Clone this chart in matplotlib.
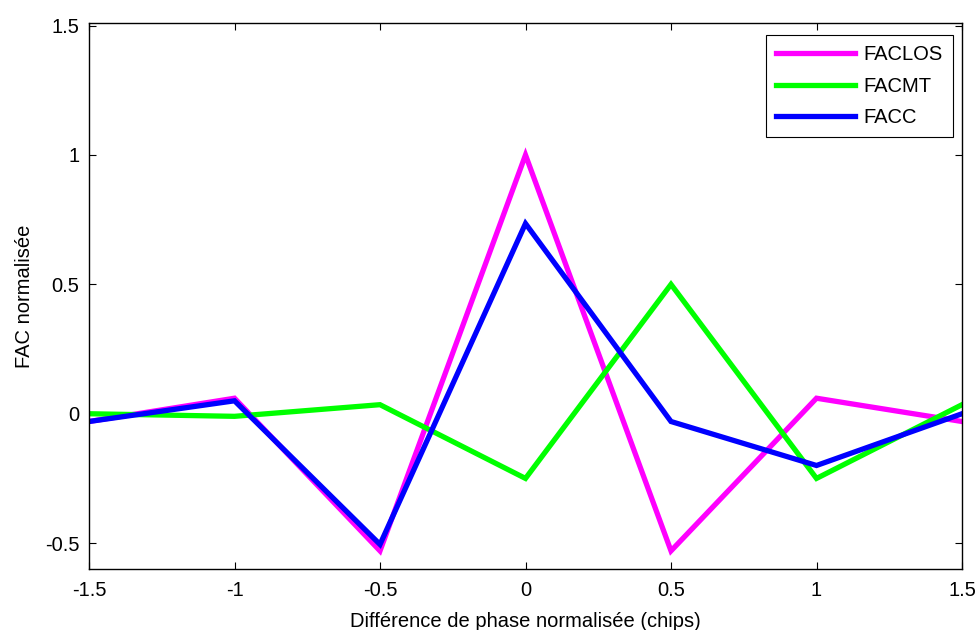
import matplotlib
matplotlib.use("Agg")
import matplotlib.pyplot as plt

plt.rcParams['font.family'] = ['Liberation Sans', 'DejaVu Sans']

phase = [-1.5, -1.0, -0.5, 0.0, 0.5, 1.0, 1.5]
faclos = [-0.03, 0.06, -0.53, 1.0, -0.53, 0.06, -0.03]
facmt = [0.0, -0.01, 0.035, -0.25, 0.5, -0.25, 0.035]
facc = [-0.03, 0.05, -0.505, 0.735, -0.03, -0.2, 0.0]

xticks = [-1.5, -1, -0.5, 0, 0.5, 1, 1.5]
xticklabels = ['-1.5', '-1', '-0.5', '0', '0.5', '1', '1.5']
yticks = [-0.5, 0, 0.5, 1, 1.5]
yticklabels = ['-0.5', '0', '0.5', '1', '1.5']

fs = 14.5

fig = plt.figure(figsize=(9.78, 6.3), dpi=100)
ax = fig.add_axes([89/978, 61/630, (962-89)/978, (569-23)/630])

lw = 3.8
ax.plot(phase, faclos, color='#ff00ff', lw=lw, label='FACLOS', solid_joinstyle='miter')
ax.plot(phase, facmt, color='#00ff00', lw=lw, label='FACMT', solid_joinstyle='miter')
ax.plot(phase, facc, color='#0000ff', lw=lw, label='FACC', solid_joinstyle='miter')

ax.set_xlim(-1.5, 1.5)
ax.set_ylim(-0.6, 1.51)
ax.set_xticks(xticks)
ax.set_xticklabels(xticklabels)
ax.set_yticks(yticks)
ax.set_yticklabels(yticklabels)
ax.tick_params(direction='in', top=True, right=True, length=5, width=0.8,
               labelsize=fs, colors='black')
ax.tick_params(axis='y', pad=7)
ax.tick_params(axis='x', pad=9)
for s in ax.spines.values():
    s.set_linewidth(1.0)

ax.set_xlabel('Différence de phase normalisée (chips)', fontsize=fs, labelpad=8)
ax.set_ylabel('FAC normalisée', fontsize=fs, labelpad=8)

leg = ax.legend(loc='upper right', bbox_to_anchor=(0.9897, 0.978), fontsize=fs,
                fancybox=False, framealpha=1, edgecolor='black', borderaxespad=0,
                handlelength=3.9, handletextpad=0.45, labelspacing=0.62,
                borderpad=0.5)
leg.get_frame().set_linewidth(0.8)

fig.savefig('out.png', dpi=100, facecolor='white')
